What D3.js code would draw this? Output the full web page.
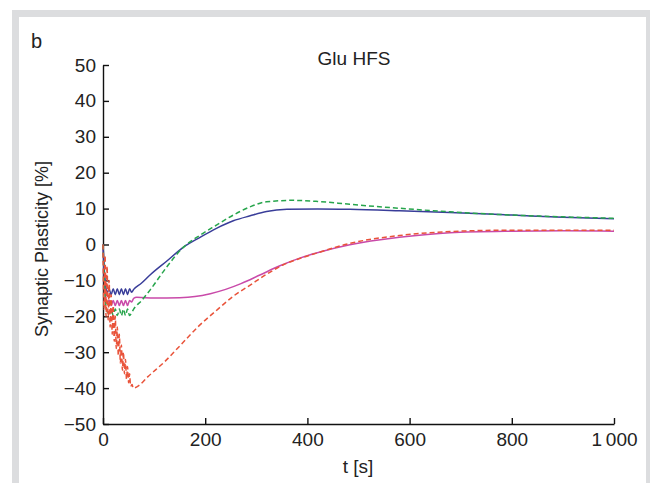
<!DOCTYPE html>
<html>
<head>
<meta charset="utf-8">
<script src="https://cdn.jsdelivr.net/npm/d3@7"></script>
<style>
  body { margin: 0; background: #fff; }
  svg { display: block; }
  text { font-family: "Liberation Sans", Arial, sans-serif; fill: #222; }
  .axis path, .axis line { stroke: #111; stroke-width: 1.4; }
  .axis text { font-size: 19px; fill: #222; }
</style>
</head>
<body>
<svg id="chart" width="650" height="483"></svg>
<script>
// ---- data (t in s, plasticity in %) ----
var xTicks = [0, 200, 400, 600, 800, 1000];
var yTicks = [-50, -40, -30, -20, -10, 0, 10, 20, 30, 40, 50];

var blueT = [0, 2, 5, 8, 12, 16, 20, 24, 28, 32, 36, 40, 44, 48, 52, 56, 60, 75, 92, 125, 157, 190, 222, 255, 288, 320, 360, 420, 483, 580, 679, 800, 900, 1000];
var blueV = [0, -6, -11, -13.5, -12.4, -14, -12.3, -14, -12.3, -14, -12.3, -14, -12.3, -14, -12.3, -13.3, -12.5, -10.8, -8.5, -4.6, -0.8, 2.0, 4.5, 6.6, 8.0, 9.2, 9.8, 9.9, 9.8, 9.4, 8.9, 8.2, 7.6, 7.2];

var greenT = [0, 2, 5, 8, 12, 16, 20, 24, 28, 32, 36, 40, 44, 48, 52, 56, 60, 75, 92, 125, 157, 190, 222, 255, 288, 320, 372, 420, 483, 580, 679, 800, 900, 1000];
var greenV = [0, -8, -16, -18.5, -19.6, -18, -19.8, -18, -19.8, -18, -19.8, -18, -19.8, -18, -19.8, -19, -18, -15.7, -12.7, -6.2, -0.8, 2.6, 5.4, 8.2, 10.5, 11.9, 12.3, 12.0, 11.2, 10.1, 9.1, 8.2, 7.7, 7.3];

var magentaT = [0, 2, 5, 8, 12, 16, 20, 24, 28, 32, 36, 40, 44, 48, 52, 56, 60, 66, 100, 150, 180, 210, 240, 270, 307, 345, 385, 430, 483, 580, 679, 800, 900, 1000];
var magentaV = [0, -7, -14, -16.5, -15.5, -17, -15.6, -17, -15.6, -17, -15.6, -17, -15.6, -17, -15.6, -16, -15, -14.7, -14.9, -14.8, -14.5, -13.7, -12.5, -10.9, -8.5, -6, -3.8, -1.9, -0.1, 2.0, 3.3, 3.7, 3.8, 3.7];

var redT = [0, 2, 4, 6, 8, 10, 12, 14, 16, 18, 20, 22, 24, 26, 28, 30, 32, 34, 36, 38, 40, 42, 44, 46, 48, 50, 52, 54, 57, 59, 70, 88, 121, 150, 186, 225, 255, 288, 320, 352, 385, 418, 483, 580, 679, 800, 900, 1000];
var redV = [0, -18, -3, -20, -6, -21, -10, -23, -14, -25, -17, -27, -20, -29, -23, -31, -25, -33, -28, -35, -30, -36, -32, -37.5, -34, -38.5, -36, -39.5, -39, -40, -39.3, -36.8, -32.6, -28.3, -22.9, -18, -14.4, -11.3, -8.3, -5.7, -3.9, -2.4, 0.3, 2.5, 3.6, 4.0, 4.0, 4.0];

var series = [
  { name: "magenta", t: magentaT, v: magentaV, color: "#c94aa9", dash: null },
  { name: "blue", t: blueT, v: blueV, color: "#393d99", dash: null },
  { name: "green", t: greenT, v: greenV, color: "#27a54c", dash: "5,3" },
  { name: "red", t: redT, v: redV, color: "#e9533a", dash: "5,3" }
];

// ---- layout ----
var svg = d3.select("#chart");
var W = 650, H = 483;
var plotLeft = 103, plotRight = 614, plotTop = 65, plotBottom = 424;

// frame
svg.append("rect").attr("x", 12).attr("y", 10).attr("width", W - 12).attr("height", H - 10).attr("fill", "#dcdddf");
svg.append("rect").attr("x", 19).attr("y", 17).attr("width", 646 - 19).attr("height", H - 17).attr("fill", "#fff");

var x = d3.scaleLinear().domain([0, 1000]).range([plotLeft, plotRight]);
var y = d3.scaleLinear().domain([-50, 50]).range([plotBottom, plotTop]);

function fmtX(d) {
  return d >= 1000 ? "1\u2009000" : String(d);
}

svg.append("g")
  .attr("class", "axis")
  .attr("transform", "translate(0," + plotBottom + ")")
  .call(d3.axisBottom(x).tickValues(xTicks).tickFormat(fmtX).tickSizeInner(-6).tickSizeOuter(0).tickPadding(9));

svg.append("g")
  .attr("class", "axis")
  .attr("transform", "translate(" + plotLeft + ",0)")
  .call(d3.axisLeft(y).tickValues(yTicks).tickSizeInner(-6).tickSizeOuter(0).tickPadding(7));

svg.selectAll(".axis .domain").attr("fill", "none");

// curves
var line = d3.line()
  .x(function(d) { return x(d[0]); })
  .y(function(d) { return y(d[1]); })
  .curve(d3.curveMonotoneX);

series.forEach(function(s) {
  var pts = s.t.map(function(t, i) { return [t, s.v[i]]; });
  svg.append("path")
    .datum(pts)
    .attr("fill", "none")
    .attr("stroke", s.color)
    .attr("stroke-width", 1.5)
    .attr("stroke-dasharray", s.dash)
    .attr("d", line);
});

// texts
svg.append("text").attr("x", 31).attr("y", 48).attr("font-size", 20).text("b");
svg.append("text").attr("x", 354).attr("y", 65).attr("text-anchor", "middle").attr("font-size", 19).text("Glu HFS");
svg.append("text").attr("x", 358).attr("y", 473).attr("text-anchor", "middle").attr("font-size", 19).text("t [s]");
svg.append("text")
  .attr("transform", "translate(48,249) rotate(-90)")
  .attr("text-anchor", "middle")
  .attr("font-size", 18)
  .text("Synaptic Plasticity [%]");
</script>
</body>
</html>
